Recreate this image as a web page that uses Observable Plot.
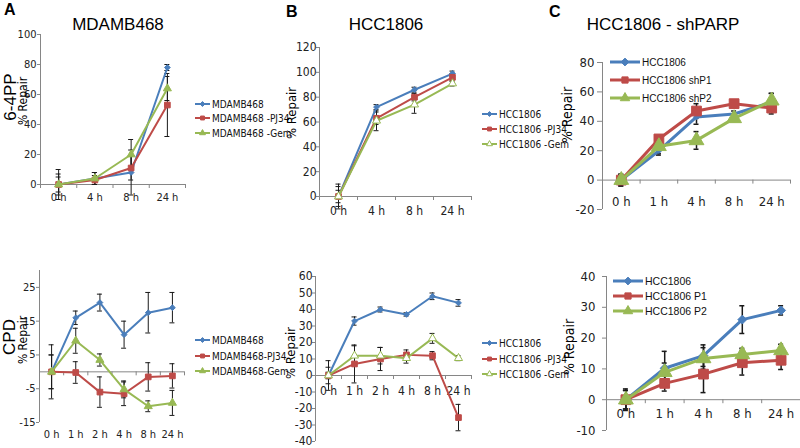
<!DOCTYPE html>
<html><head><meta charset="utf-8">
<script src="https://cdn.jsdelivr.net/npm/d3@7"></script>
<script src="https://cdn.jsdelivr.net/npm/@observablehq/plot@0.6"></script>
<style>
html,body{margin:0;padding:0;background:#fff;}
#chart{position:relative;width:800px;height:448px;overflow:hidden;background:#fff;}
.lbl{position:absolute;white-space:nowrap;color:#000;line-height:1;}
</style></head><body><div id="chart"></div>
<script>
// ---------- DATA ----------
const catsA1 = ["0 h", "4 h", "8 h", "24 h"];
const a1Names = ["MDAMB468", "MDAMB468 -PJ34", "MDAMB468 -Gem"];
const a1Ctrl = [0, 4, 8, 78],   a1CtrlErr = [10, 4, 15, 2];
const a1Pj34 = [0, 3, 11, 53],  a1Pj34Err = [5, 3, 8, 21];
const a1Gem  = [0, 4, 20, 64],  a1GemErr  = [7, 4, 10, 8];
const a1Ticks = [0, 20, 40, 60, 80, 100];

const catsA2 = ["0 h", "1 h", "2 h", "4 h", "8 h", "24 h"];
const a2Names = ["MDAMB468", "MDAMB468-PJ34", "MDAMB468-Gem"];
const a2Ctrl = [0, 16, 20.5, 11, 17.5, 19],     a2CtrlErr = [8, 2, 2.5, 4, 6, 4.5];
const a2Pj34 = [0, -0.2, -6, -6.5, -1.5, -1.2], a2Pj34Err = [5, 3.2, 4.5, 3.5, 4.2, 3.6];
const a2Gem  = [0, 9.2, 3.5, -5.2, -10.2, -9.2], a2GemErr = [5, 3.7, 1.8, 2.5, 1.6, 3.7];
const a2Ticks = [-15, -5, 5, 15, 25];

const catsB1 = ["0 h", "4 h", "8 h", "24 h"];
const b1Names = ["HCC1806", "HCC1806 -PJ34", "HCC1806 -Gem"];
const b1Ctrl = [0, 72, 86, 99], b1CtrlErr = [10, 2, 2, 2];
const b1Pj34 = [0, 63, 80, 96], b1Pj34Err = [8, 5, 3, 3];
const b1Gem  = [0, 61, 74, 91], b1GemErr  = [5, 8, 7, 2];
const b1Ticks = [0, 20, 40, 60, 80, 100, 120];

const catsB2 = ["0 h", "1 h", "2 h", "4 h", "8 h", "24 h"];
const b2Names = ["HCC1806", "HCC1806 -PJ34", "HCC1806 -Gem"];
const b2Ctrl = [0, 33, 40, 37, 48, 44],       b2CtrlErr = [9, 2.5, 1.5, 1, 2, 2];
const b2Pj34 = [0, 7, 10, 12.5, 12, -25.5],   b2Pj34Err = [2, 11.5, 7, 3, 2.5, 8];
const b2Gem  = [0, 12, 12, 10.5, 22.5, 10.5], b2GemErr  = [5, 6, 5, 3, 3, 1.5];
const b2Ticks = [-40, -30, -20, -10, 0, 10, 20, 30, 40, 50, 60];

const catsC1 = ["0 h", "1 h", "4 h", "8 h", "24 h"];
const c1Names = ["HCC1806", "HCC1806 shP1", "HCC1806 shP2"];
const c1Ctrl = [0, 20, 43, 45, 53], c1CtrlErr = [4, 3, 5, 2, 6];
const c1Sh1  = [0, 28, 47, 52, 49], c1Sh1Err  = [4, 2, 5, 2, 4];
const c1Sh2  = [0, 23, 27, 42, 54], c1Sh2Err  = [3, 5, 6, 2, 5];
const c1Ticks = [-20, 0, 20, 40, 60, 80];

const catsC2 = ["0 h", "1 h", "4 h", "8 h", "24 h"];
const c2Names = ["HCC1806", "HCC1806 P1", "HCC1806 P2"];
const c2Ctrl = [0, 10.2, 14.3, 26, 29],  c2CtrlErr = [3.5, 5.5, 3.5, 4.5, 1.5];
const c2P1   = [0, 5.3, 8.3, 12, 12.8],  c2P1Err   = [3, 2.5, 6, 4, 3];
const c2P2   = [0, 8.9, 13.4, 14.7, 16], c2P2Err   = [3, 3, 3.5, 2, 2];
const c2Ticks = [-10, 0, 10, 20, 30, 40];

// ---------- STYLE ----------
const NARROW = '"Liberation Sans Narrow","DejaVu Sans Condensed","Roboto Condensed","Liberation Sans",Arial,sans-serif';
const ARIAL = '"Liberation Sans",Arial,sans-serif';
const BLUE = "#4a7ebb", RED = "#be4b48", GREEN = "#98b954";
const AXIS = "#868686";
const symMap = {diamond2: d3.symbolDiamond2, square: d3.symbolSquare, triangle: d3.symbolTriangle};

const chart = document.getElementById("chart");

function panel(p) {
  const n = p.cats.length;
  const marks = [
    Plot.ruleX([-0.5], {x: d => d, stroke: AXIS}),
    Plot.ruleY([0], {y: d => d, stroke: AXIS}),
    Plot.ruleY(p.ticks, {y: d => d, x1: -0.5, x2: -0.5, insetLeft: -p.tickLen, stroke: AXIS}),
    Plot.text(p.ticks, {y: d => d, frameAnchor: "left", dx: p.ytDx, textAnchor: "end", text: d => String(d), fill: "#222"}),
    Plot.text(p.cats, p.xlBottom
      ? {x: (d, i) => i, frameAnchor: "bottom", dy: p.xlDy, text: d => d, fill: "#222"}
      : {x: (d, i) => i, y: 0, dy: p.xlDy, text: d => d, fill: "#222"})
  ];
  if (p.xTicks) marks.push(Plot.ruleX(d3.range(n + 1).map(i => i - 0.5), {x: d => d, y1: 0, y2: 0, insetBottom: -4, stroke: AXIS}));
  p.series.forEach(s => {
    const rows = s.values.map((v, i) => ({i, v, e: s.err[i]}));
    const caps = rows.flatMap(d => [{i: d.i, y: d.v - d.e}, {i: d.i, y: d.v + d.e}]);
    marks.push(Plot.ruleX(rows, {x: "i", y1: d => d.v - d.e, y2: d => d.v + d.e, stroke: "#1a1a1a", strokeWidth: p.ew}));
    marks.push(Plot.ruleY(caps, {y: "y", x1: "i", x2: "i", insetLeft: -2.5, insetRight: -2.5, stroke: "#1a1a1a", strokeWidth: p.ew}));
  });
  p.series.forEach(s => {
    const rows = s.values.map((v, i) => ({i, v}));
    marks.push(Plot.line(rows, {x: "i", y: "v", stroke: s.color, strokeWidth: p.lw}));
    marks.push(Plot.dot(rows, {x: "i", y: "v", symbol: s.symbol, r: s.r, fill: s.open ? "white" : s.color, stroke: s.color, strokeWidth: 1}));
  });
  const svg = Plot.plot({
    width: 800, height: 448,
    marginLeft: p.x0, marginRight: 800 - p.x1, marginTop: p.yTop, marginBottom: 448 - p.yBot,
    x: {domain: [-0.5, n - 0.5], axis: null},
    y: {domain: [p.ymin, p.ymax], axis: null},
    style: {position: "absolute", left: "0px", top: "0px", background: "transparent", overflow: "visible",
            fontFamily: p.font, fontSize: p.fs + "px", color: "#222"},
    marks
  });
  chart.appendChild(svg);
  // legend
  const L = p.legend;
  const lg = d3.select(chart).append("svg")
    .style("position", "absolute").style("left", "0px").style("top", "0px")
    .attr("width", 800).attr("height", 448).style("overflow", "visible");
  p.series.forEach((s, k) => {
    const y = L.ys[k];
    lg.append("line").attr("x1", L.x).attr("x2", L.x + L.len).attr("y1", y).attr("y2", y)
      .attr("stroke", s.color).attr("stroke-width", L.lw);
    lg.append("path").attr("d", d3.symbol(symMap[s.symbol], Math.PI * L.r * L.r)())
      .attr("transform", `translate(${L.x + L.len / 2},${y})`)
      .attr("fill", s.open ? "white" : s.color).attr("stroke", s.color);
    lg.append("text").attr("x", L.x + L.len + 2).attr("y", y).attr("dy", "0.35em")
      .attr("font-family", L.font).attr("font-size", L.fs).attr("fill", "#111").text(s.name);
  });
}

function label(txt, cx, cy, o = {}) {
  const d = document.createElement("div");
  d.className = "lbl";
  d.textContent = txt;
  d.style.left = cx + "px"; d.style.top = cy + "px";
  d.style.fontFamily = o.font || ARIAL;
  d.style.fontSize = (o.fs || 12) + "px";
  if (o.bold) d.style.fontWeight = "bold";
  d.style.transform = o.rot ? "translate(-50%,-50%) rotate(-90deg)" : (o.left ? "translate(0,-50%)" : "translate(-50%,-50%)");
  chart.appendChild(d);
}

function ser(names, vals, errs, colors, symbols, rs, opens) {
  return names.map((nm, k) => ({name: nm, values: vals[k], err: errs[k], color: colors[k], symbol: symbols[k], r: rs[k], open: opens[k]}));
}

// Panel A top
panel({cats: catsA1, ticks: a1Ticks, ymin: 0, ymax: 100, x0: 40, x1: 185, yTop: 34, yBot: 184,
  tickLen: 3, ytDx: -4, xlDy: 13, xTicks: true, lw: 2, ew: 1, font: NARROW, fs: 11,
  series: ser(a1Names, [a1Ctrl, a1Pj34, a1Gem], [a1CtrlErr, a1Pj34Err, a1GemErr], [BLUE, RED, GREEN],
    ["diamond2", "square", "triangle"], [2.6, 3.2, 3], [false, false, false]),
  legend: {x: 195, len: 15, ys: [104, 118, 133], lw: 2, r: 2.2, font: NARROW, fs: 10}});

// Panel A bottom
panel({cats: catsA2, ticks: a2Ticks, ymin: -15, ymax: 30, x0: 39, x1: 184, yTop: 270, yBot: 422,
  tickLen: 3, ytDx: -4, xlDy: 15, xlBottom: true, xTicks: true, lw: 2, ew: 1, font: NARROW, fs: 11,
  series: ser(a2Names, [a2Ctrl, a2Pj34, a2Gem], [a2CtrlErr, a2Pj34Err, a2GemErr], [BLUE, RED, GREEN],
    ["diamond2", "square", "triangle"], [2.6, 3.2, 3], [false, false, false]),
  legend: {x: 195, len: 15, ys: [340, 356, 371], lw: 2, r: 2.2, font: NARROW, fs: 10}});

// Panel B top
panel({cats: catsB1, ticks: b1Ticks, ymin: 0, ymax: 120, x0: 319, x1: 471, yTop: 47, yBot: 196,
  tickLen: 3, ytDx: -3, xlDy: 15, xTicks: true, lw: 2, ew: 1, font: NARROW, fs: 12,
  series: ser(b1Names, [b1Ctrl, b1Pj34, b1Gem], [b1CtrlErr, b1Pj34Err, b1GemErr], [BLUE, RED, GREEN],
    ["diamond2", "square", "triangle"], [2.6, 3.2, 3], [false, false, true]),
  legend: {x: 482, len: 15, ys: [114, 129, 144], lw: 2, r: 2.2, font: NARROW, fs: 10}});

// Panel B bottom
panel({cats: catsB2, ticks: b2Ticks, ymin: -40, ymax: 60, x0: 315, x1: 471, yTop: 276, yBot: 441,
  tickLen: 3, ytDx: -3, xlDy: 16, xTicks: true, lw: 2, ew: 1, font: NARROW, fs: 12,
  series: ser(b2Names, [b2Ctrl, b2Pj34, b2Gem], [b2CtrlErr, b2Pj34Err, b2GemErr], [BLUE, RED, GREEN],
    ["diamond2", "square", "triangle"], [2.6, 3.2, 3], [false, false, true]),
  legend: {x: 482, len: 15, ys: [343, 359, 374], lw: 2, r: 2.2, font: NARROW, fs: 10}});

// Panel C top
panel({cats: catsC1, ticks: c1Ticks, ymin: -20, ymax: 80, x0: 602, x1: 790, yTop: 62, yBot: 209,
  tickLen: 5, ytDx: -8, xlDy: 22, xTicks: true, lw: 3, ew: 1.5, font: NARROW, fs: 13,
  series: ser(c1Names, [c1Ctrl, c1Sh1, c1Sh2], [c1CtrlErr, c1Sh1Err, c1Sh2Err], [BLUE, RED, GREEN],
    ["diamond2", "square", "triangle"], [2.6, 5.5, 5.5], [false, false, false]),
  legend: {x: 610, len: 30, ys: [62, 80, 98], lw: 3, r: 3.5, font: ARIAL, fs: 10}});

// Panel C bottom
panel({cats: catsC2, ticks: c2Ticks, ymin: -10, ymax: 40, x0: 606, x1: 800, yTop: 276, yBot: 430,
  tickLen: 4, ytDx: -11, xlDy: 14, xTicks: true, lw: 3, ew: 1.5, font: NARROW, fs: 13,
  series: ser(c2Names, [c2Ctrl, c2P1, c2P2], [c2CtrlErr, c2P1Err, c2P2Err], [BLUE, RED, GREEN],
    ["diamond2", "square", "triangle"], [4, 5.5, 5.5], [false, false, false]),
  legend: {x: 613, len: 30, ys: [281, 296, 311], lw: 3, r: 3.5, font: ARIAL, fs: 10.5}});

// Texts
label("A", 4, 10, {bold: true, fs: 16, left: true});
label("B", 286, 12, {bold: true, fs: 16, left: true});
label("C", 549, 12, {bold: true, fs: 16, left: true});
label("MDAMB468", 118, 24, {fs: 17});
label("HCC1806", 386, 24, {fs: 17});
label("HCC1806 - shPARP", 663, 24, {fs: 17});
label("6-4PP", 10, 97, {fs: 17, rot: true});
label("% Repair", 23, 101, {fs: 12, rot: true, font: NARROW});
label("CPD", 9, 337, {fs: 17, rot: true});
label("% Repair", 23, 340, {fs: 12, rot: true, font: NARROW});
label("% Repair", 291, 113, {fs: 13, rot: true, font: NARROW});
label("% Repair", 290, 353, {fs: 13, rot: true, font: NARROW});
label("% Repair", 567, 115, {fs: 14, rot: true, font: NARROW});
label("% Repair", 569, 347, {fs: 14, rot: true, font: NARROW});
</script></body></html>
